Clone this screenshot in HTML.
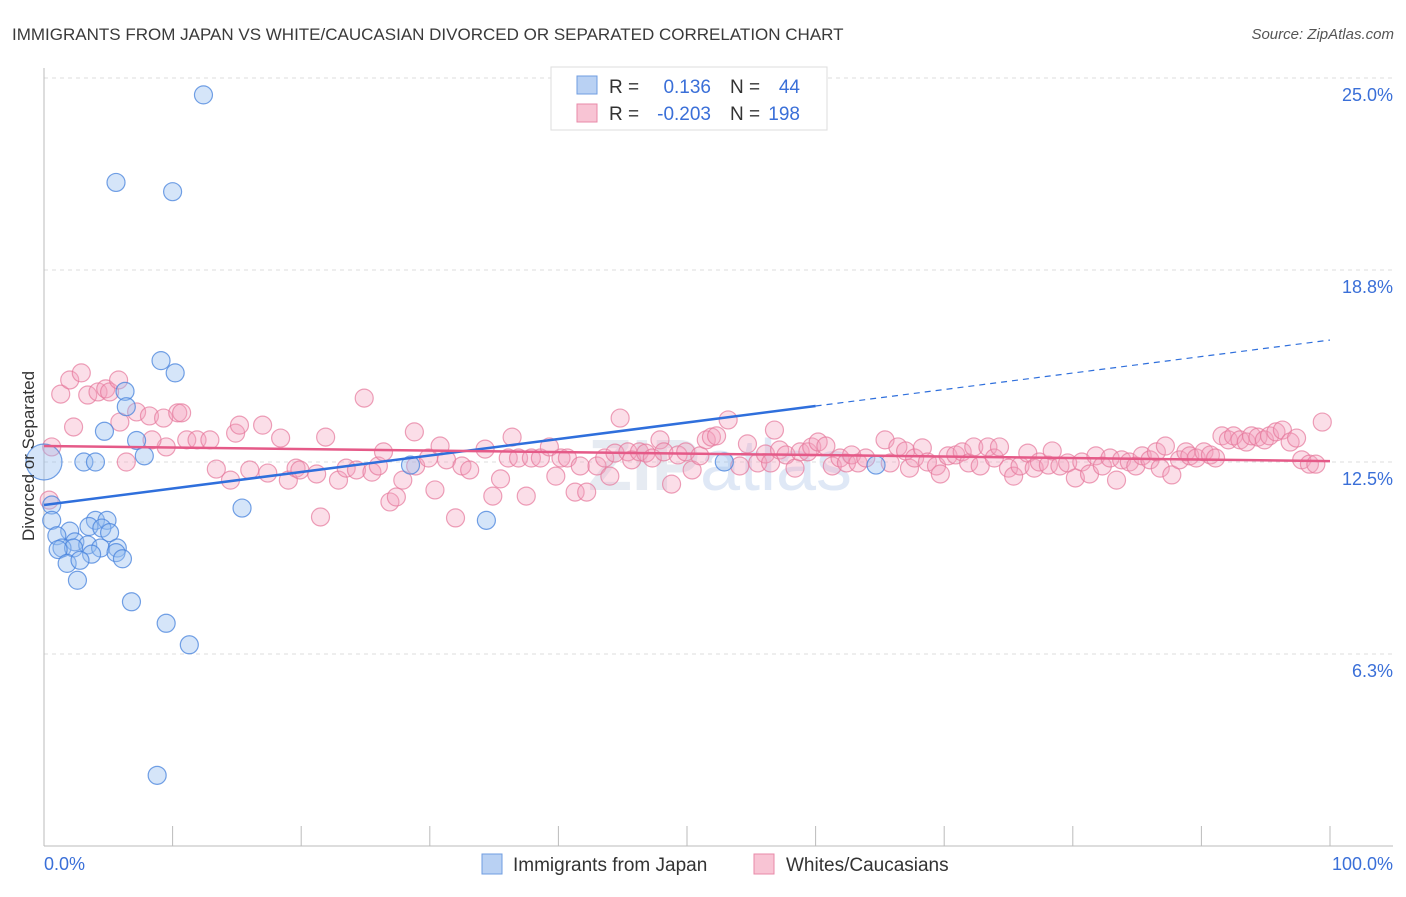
<!DOCTYPE html>
<html><head><meta charset="utf-8">
<style>
body{margin:0;background:#fff;font-family:"Liberation Sans",sans-serif;}
svg text{font-family:"Liberation Sans",sans-serif;}
</style></head>
<body>
<svg id="chart" width="1406" height="892" xmlns="http://www.w3.org/2000/svg">
<text x="12" y="40" font-size="17" fill="#3a3a3a">IMMIGRANTS FROM JAPAN VS WHITE/CAUCASIAN DIVORCED OR SEPARATED CORRELATION CHART</text>
<text x="1394" y="39" font-size="15" fill="#555" text-anchor="end" font-style="italic">Source: ZipAtlas.com</text>
<text x="720" y="490" font-size="72" fill="#e6ebf2" text-anchor="middle" font-weight="bold">ZIP<tspan fill="#dfe8f6" font-weight="normal">atlas</tspan></text>
<g id="grid"></g>
<g id="axes"></g>
<g id="pinkPts"></g>
<g id="bluePts"></g>
<g id="trends"></g>
<text transform="translate(34,456) rotate(-90)" font-size="17" fill="#333" text-anchor="middle">Divorced or Separated</text>
<g>
<rect x="551" y="67" width="276" height="63" fill="#fff" stroke="#ddd"/>
<rect x="577" y="76" width="20" height="18" fill="#b9d1f3" stroke="#6f9de0"/>
<rect x="577" y="104" width="20" height="18" fill="#f8c4d4" stroke="#e88aa8"/>
<text x="609" y="93" font-size="19" fill="#333">R = </text><text x="711" y="93" font-size="19" fill="#3a6fd8" text-anchor="end">0.136</text>
<text x="730" y="93" font-size="19" fill="#333">N = </text><text x="800" y="93" font-size="19" fill="#3a6fd8" text-anchor="end">44</text>
<text x="609" y="120" font-size="19" fill="#333">R = </text><text x="711" y="120" font-size="19" fill="#3a6fd8" text-anchor="end">-0.203</text>
<text x="730" y="120" font-size="19" fill="#333">N = </text><text x="800" y="120" font-size="19" fill="#3a6fd8" text-anchor="end">198</text>
</g>
<g>
<rect x="482" y="854" width="20" height="20" fill="#b9d1f3" stroke="#6f9de0"/>
<text x="513" y="871" font-size="19" fill="#333">Immigrants from Japan</text>
<rect x="754" y="854" width="20" height="20" fill="#f8c4d4" stroke="#e88aa8"/>
<text x="786" y="871" font-size="19" fill="#333">Whites/Caucasians</text>
</g>
</svg>
<script>
const yTicks=[25.0,18.8,12.5,6.3];
const yTickVals=[25,18.75,12.5,6.25];
const xTickLabels=["0.0%","100.0%"];
const blueX=[12.4,5.6,10.0,9.1,10.2,6.3,6.4,4.7,7.2,7.8,3.1,4.0,28.5,52.9,64.7,15.4,34.4,0.6,0.6,4.0,4.9,3.5,4.5,2.0,1.0,5.1,2.4,3.4,1.4,2.3,4.4,5.7,1.1,3.7,5.6,6.1,1.8,2.8,2.6,6.8,9.5,11.3,8.8,0];
const blueY=[24.45,21.6,21.3,15.8,15.4,14.8,14.3,13.5,13.2,12.7,12.5,12.5,12.4,12.5,12.4,11.0,10.6,11.1,10.6,10.6,10.6,10.4,10.35,10.25,10.1,10.2,9.9,9.8,9.7,9.7,9.7,9.7,9.65,9.5,9.55,9.35,9.2,9.3,8.65,7.95,7.25,6.55,2.3,12.5];
const blueBig=[0,0,0,0,0,0,0,0,0,0,0,0,0,0,0,0,0,0,0,0,0,0,0,0,0,0,0,0,0,0,0,0,0,0,0,0,0,0,0,0,0,0,0,1];
const pinkX=[1.3,2.0,2.9,0.6,2.3,3.4,4.2,4.8,5.1,5.8,5.9,7.2,8.2,9.3,10.4,10.7,9.5,6.4,8.4,11.1,11.9,12.9,14.9,13.4,15.2,17.0,18.4,17.4,19.0,14.5,16.0,19.6,19.9,21.2,21.5,21.9,22.9,23.5,24.3,24.9,25.5,26.0,26.4,26.9,27.4,27.9,28.8,28.9,29.9,30.4,30.8,31.3,32.0,32.5,33.1,34.3,34.9,35.5,36.1,36.4,36.9,37.5,37.9,38.6,39.3,39.8,40.2,40.7,41.3,41.7,42.2,43.0,43.6,44.0,44.4,44.8,45.4,45.7,46.3,46.8,47.3,47.9,48.2,48.8,49.3,49.9,50.4,51.0,51.5,51.9,52.3,53.2,54.1,54.7,55.5,56.1,56.5,56.8,57.2,57.7,58.4,58.8,59.4,59.7,60.2,60.8,61.3,61.9,62.4,62.8,63.3,63.9,65.4,65.8,66.4,67.0,67.3,67.7,68.3,68.7,69.4,69.7,70.3,70.9,71.4,71.9,72.3,72.8,73.4,73.9,74.3,75.0,75.4,75.9,76.5,77.0,77.4,78.1,78.4,79.0,79.6,80.2,80.7,81.3,81.8,82.3,82.9,83.4,83.8,84.4,84.9,85.4,86.0,86.5,86.8,87.2,87.7,88.3,88.8,89.1,89.6,90.2,90.7,91.1,91.6,92.1,92.5,93.0,93.5,93.9,94.4,94.9,95.3,95.8,96.3,96.9,97.4,97.8,98.4,98.9,99.4,0.4];
const pinkY=[14.71,15.17,15.40,12.99,13.64,14.68,14.78,14.88,14.78,15.17,13.80,14.13,14.00,13.93,14.10,14.10,12.99,12.50,13.22,13.22,13.22,13.22,13.44,12.27,13.70,13.70,13.28,12.14,11.91,11.91,12.24,12.30,12.24,12.11,10.71,13.31,11.91,12.30,12.24,14.58,12.17,12.37,12.83,11.20,11.36,11.91,13.48,12.37,12.63,11.59,13.02,12.57,10.68,12.37,12.24,12.92,11.39,11.95,12.63,13.31,12.63,11.39,12.63,12.63,12.99,12.04,12.63,12.63,11.52,12.37,11.52,12.37,12.63,12.04,12.79,13.93,12.83,12.57,12.83,12.79,12.63,13.22,12.83,11.78,12.73,12.83,12.24,12.70,13.22,13.31,13.35,13.87,12.37,13.09,12.47,12.76,12.47,13.54,12.89,12.73,12.30,12.83,12.83,12.99,13.15,13.02,12.37,12.63,12.47,12.73,12.47,12.63,13.22,12.47,12.99,12.86,12.30,12.63,12.96,12.50,12.37,12.11,12.70,12.73,12.83,12.47,12.99,12.37,12.99,12.63,12.99,12.30,12.04,12.37,12.79,12.30,12.50,12.40,12.86,12.37,12.47,11.98,12.50,12.11,12.70,12.37,12.63,11.91,12.57,12.50,12.37,12.70,12.57,12.83,12.30,13.02,12.08,12.57,12.83,12.70,12.63,12.83,12.73,12.63,13.35,13.22,13.35,13.22,13.15,13.35,13.31,13.22,13.35,13.48,13.54,13.15,13.28,12.57,12.43,12.43,13.80,11.26];
const blueTrend=[11.1,16.47];
const pinkTrend=[13.02,12.53];
const blueSolidEnd=60;

const NS="http://www.w3.org/2000/svg";
const X0=44,X1=1330,Y0=846,PXPERPCT=192/6.25;
const sx=v=>X0+(X1-X0)*v/100;
const sy=v=>Y0-v*PXPERPCT;
function mk(tag,attrs,parent){const e=document.createElementNS(NS,tag);for(const k in attrs)e.setAttribute(k,attrs[k]);parent.appendChild(e);return e;}
const grid=document.getElementById('grid'),axes=document.getElementById('axes');
yTickVals.forEach((v,i)=>{
  const l=mk('line',{x1:44,x2:1393,y1:sy(v),y2:sy(v),stroke:'#ddd','stroke-dasharray':'4,4'},grid);
  
  
  const t=mk('text',{x:1393,y:sy(v)+23,'font-size':18,fill:'#3a6fd8','text-anchor':'end'},axes);
  t.textContent=yTicks[i].toFixed(1)+'%';
  
  
});
mk('line',{x1:44,x2:44,y1:68,y2:846,stroke:'#bbb'},axes);
mk('line',{x1:44,x2:1393,y1:846,y2:846,stroke:'#bbb'},axes);
for(let k=0;k<=10;k++){const x=sx(k*10);const tk=mk('line',{x1:x,x2:x,y1:826,y2:846,stroke:'#bbb'},axes);
  
  }
const xl0=mk('text',{x:44,y:870,'font-size':18,fill:'#3a6fd8'},axes);xl0.textContent=xTickLabels[0];


const xl1=mk('text',{x:1393,y:870,'font-size':18,fill:'#3a6fd8','text-anchor':'end'},axes);xl1.textContent=xTickLabels[1];


const pg=document.getElementById('pinkPts');
pinkX.forEach((x,i)=>{const c=mk('circle',{cx:sx(x),cy:sy(pinkY[i]),r:9,fill:'rgba(244,160,188,0.35)',stroke:'rgba(230,120,155,0.7)','stroke-width':1.2},pg);
  
  });
const bg=document.getElementById('bluePts');
blueX.forEach((x,i)=>{const c=mk('circle',{cx:sx(x),cy:sy(blueY[i]),r:blueBig[i]?18:9,fill:'rgba(150,190,240,0.4)',stroke:'rgba(70,130,220,0.75)','stroke-width':1.2},bg);
  
  });
const tg=document.getElementById('trends');
const bAt=v=>blueTrend[0]+(blueTrend[1]-blueTrend[0])*v/100;
const b1=mk('line',{x1:sx(0),y1:sy(bAt(0)),x2:sx(blueSolidEnd),y2:sy(bAt(blueSolidEnd)),stroke:'#2f6fdc','stroke-width':2.5},tg);


const b2=mk('line',{x1:sx(blueSolidEnd),y1:sy(bAt(blueSolidEnd)),x2:sx(100),y2:sy(bAt(100)),stroke:'#2f6fdc','stroke-width':1.2,'stroke-dasharray':'6,5'},tg);


const p1=mk('line',{x1:sx(0),y1:sy(pinkTrend[0]),x2:sx(100),y2:sy(pinkTrend[1]),stroke:'#e55a88','stroke-width':2.5},tg);


</script>
</body></html>
